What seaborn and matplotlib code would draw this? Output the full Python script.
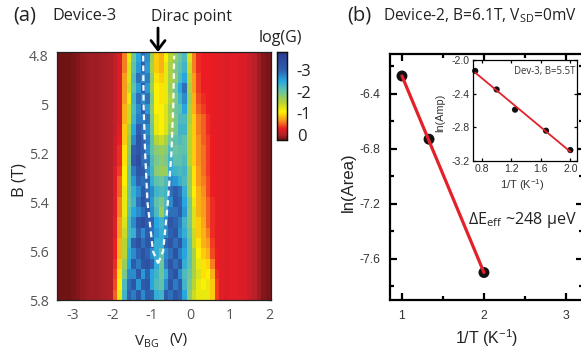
import numpy as np
import pandas as pd
import matplotlib
matplotlib.use("Agg")
import matplotlib.pyplot as plt
from matplotlib.colors import LinearSegmentedColormap
from matplotlib.ticker import FixedLocator, NullFormatter
import seaborn as sns

# ---------- data ----------
left_flank = [.2, .2, .2, .18, .15, .1, .07, .05, .04, .03, .02, .0]
right_flank = [-.25, -.25, -.22, -.2, -.13, -.05, .04, .15, .18]
center_rows = [
 [-.1,-.2,-.6,-1.2,-2.0,-2.5,-2.9,-2.7,-1.7,-.9,-.8,-1.1,-1.5,-1.8,-2.0,-2.2,-1.3,-.6,-.35,-.3,-.3,-.28,-.25,-.25,-.22],
 [-.1,-.2,-.6,-1.3,-2.1,-2.6,-3.0,-2.6,-1.6,-.9,-.8,-1.2,-1.6,-1.9,-2.1,-2.3,-1.4,-.6,-.35,-.3,-.3,-.28,-.25,-.25,-.22],
 [-.1,-.2,-.7,-1.3,-2.2,-2.9,-2.7,-2.8,-1.8,-1.0,-.9,-1.2,-1.6,-1.8,-2.2,-2.5,-1.5,-.7,-.4,-.3,-.3,-.28,-.25,-.25,-.22],
 [-.1,-.2,-.7,-1.4,-2.1,-2.6,-3.1,-2.6,-1.7,-1.1,-1.0,-1.2,-1.7,-2.0,-2.5,-2.9,-1.6,-.7,-.4,-.3,-.3,-.28,-.25,-.25,-.22],
 [-.1,-.2,-.7,-1.2,-2.3,-2.9,-2.7,-2.9,-1.9,-1.1,-1.0,-1.2,-1.6,-1.9,-2.3,-2.7,-1.7,-.8,-.45,-.35,-.3,-.28,-.25,-.25,-.22],
 [-.1,-.2,-.8,-1.4,-2.2,-2.7,-3.1,-2.6,-1.8,-1.1,-1.1,-1.3,-1.7,-2.0,-2.1,-2.5,-1.6,-.8,-.5,-.4,-.3,-.28,-.25,-.25,-.22],
 [-.1,-.2,-.8,-1.4,-2.3,-2.8,-2.8,-2.9,-1.9,-1.2,-1.1,-1.3,-1.6,-1.9,-2.2,-2.2,-1.6,-.9,-.6,-.5,-.35,-.28,-.25,-.25,-.22],
 [-.1,-.25,-.9,-1.6,-2.5,-3.1,-2.9,-2.7,-2.0,-1.2,-1.1,-1.3,-1.7,-1.9,-2.3,-2.3,-1.5,-.9,-.6,-.5,-.35,-.28,-.25,-.25,-.22],
 [-.15,-.3,-.9,-1.7,-2.7,-3.3,-3.0,-2.8,-2.1,-1.5,-1.4,-1.6,-2.0,-2.1,-2.2,-2.1,-1.5,-.9,-.65,-.5,-.4,-.3,-.25,-.25,-.22],
 [-.15,-.35,-1.0,-1.8,-3.0,-3.2,-3.0,-2.7,-2.1,-1.8,-1.7,-1.8,-2.2,-2.0,-2.1,-2.1,-1.5,-.9,-.65,-.55,-.4,-.3,-.25,-.25,-.22],
 [-.15,-.35,-1.0,-1.9,-3.1,-3.4,-2.9,-2.9,-2.2,-1.9,-1.8,-1.9,-2.3,-2.1,-2.1,-2.2,-1.5,-.9,-.65,-.55,-.4,-.3,-.25,-.25,-.22],
 [-.2,-.4,-1.1,-2.0,-2.8,-3.2,-3.1,-2.7,-2.3,-1.8,-1.7,-1.7,-2.4,-2.3,-2.2,-2.3,-1.7,-1.0,-.7,-.55,-.4,-.3,-.25,-.25,-.22],
 [-.2,-.5,-1.1,-2.0,-2.6,-3.0,-2.9,-3.0,-2.4,-2.1,-2.0,-2.2,-2.7,-2.6,-2.4,-2.2,-1.7,-1.0,-.7,-.6,-.45,-.3,-.25,-.25,-.22],
 [-.2,-.5,-1.2,-2.0,-2.4,-2.7,-3.1,-2.9,-2.7,-2.3,-2.2,-2.3,-2.9,-3.1,-2.9,-2.4,-1.7,-1.1,-.8,-.65,-.45,-.3,-.25,-.25,-.22],
 [-.2,-.6,-1.2,-2.0,-2.3,-2.9,-3.3,-3.0,-2.6,-2.1,-1.9,-2.2,-2.7,-3.2,-3.0,-2.5,-1.9,-1.2,-.8,-.7,-.5,-.35,-.25,-.25,-.22],
 [-.2,-.6,-1.2,-2.1,-2.5,-2.7,-2.9,-3.2,-2.7,-2.2,-1.7,-2.3,-2.9,-2.9,-3.1,-2.6,-1.9,-1.3,-.8,-.7,-.5,-.35,-.25,-.25,-.22],
 [-.25,-.7,-1.3,-2.2,-2.7,-3.2,-3.4,-3.1,-3.0,-2.5,-2.3,-2.7,-3.2,-3.0,-2.8,-2.3,-1.9,-1.3,-.9,-.75,-.5,-.35,-.25,-.25,-.22],
 [-.25,-.7,-1.4,-2.2,-2.4,-3.0,-2.7,-3.1,-2.9,-2.6,-2.4,-2.7,-3.0,-3.2,-2.7,-2.4,-2.0,-1.4,-.9,-.8,-.6,-.35,-.25,-.25,-.22],
 [-.3,-.8,-1.5,-2.3,-3.0,-3.3,-2.9,-3.2,-3.1,-2.4,-2.4,-3.0,-3.2,-2.9,-3.2,-2.6,-2.1,-1.4,-1.0,-.8,-.7,-.4,-.25,-.25,-.22],
 [-.3,-.8,-1.5,-2.4,-2.7,-3.0,-3.3,-3.0,-2.7,-2.4,-2.1,-2.7,-2.9,-3.3,-2.8,-2.5,-2.1,-1.6,-1.1,-.9,-.8,-.45,-.3,-.25,-.22],
 [-.35,-.9,-1.7,-2.5,-3.1,-2.8,-3.2,-3.3,-3.0,-2.4,-2.0,-2.8,-3.2,-2.9,-3.2,-2.4,-2.1,-1.6,-1.2,-1.0,-.95,-.6,-.3,-.25,-.22],
 [-.4,-1.0,-1.9,-2.7,-2.7,-3.2,-2.6,-3.0,-2.5,-2.3,-2.0,-2.4,-3.0,-3.3,-2.7,-2.2,-2.0,-1.6,-1.3,-1.0,-1.1,-.8,-.35,-.25,-.22],
 [-.45,-1.1,-2.2,-2.9,-3.2,-2.6,-3.1,-3.2,-2.5,-2.2,-2.1,-2.7,-3.2,-2.8,-3.1,-2.3,-1.9,-1.5,-1.2,-1.1,-1.2,-.9,-.4,-.25,-.22],
 [-.5,-1.2,-2.3,-3.0,-2.8,-3.2,-2.7,-3.1,-3.0,-2.4,-2.3,-3.1,-2.9,-3.2,-3.0,-2.5,-1.8,-1.4,-1.2,-1.2,-1.2,-.9,-.4,-.25,-.22],
]
vbg_ticks = [-3, -2, -1, 0, 1, 2]
b_ticks = [4.8, 5.0, 5.2, 5.4, 5.6, 5.8]
b_labels = ["4.8", "5", "5.2", "5.4", "5.6", "5.8"]
dash_left_v = [-1.21, -1.20, -1.16, -1.10, -.96, -.83]
dash_left_b = [4.80, 5.00, 5.20, 5.40, 5.60, 5.65]
dash_right_v = [-.83, -.70, -.58, -.49, -.44, -.42]
dash_right_b = [5.65, 5.60, 5.40, 5.20, 5.00, 4.80]
cbar_ticks = [-3, -2, -1, 0]
cbar_labels = ["-3", "-2", "-1", "0"]

main_x = [1.0, 1.33, 2.0]
main_y = [-6.27, -6.73, -7.70]
fit_x = [1.0, 2.0]
fit_y = [-6.27, -7.70]
inset_x = [.71, 1.0, 1.25, 1.67, 2.0]
inset_y = [-2.13, -2.35, -2.59, -2.84, -3.07]
inset_fit_x = [.71, 2.0]
inset_fit_y = [-2.15, -3.09]

# ---------- style ----------
sns.set_theme(style="ticks")
plt.rcParams["font.family"] = ["Liberation Sans", "DejaVu Sans"]
plt.rcParams["mathtext.default"] = "regular"
W, H = 581, 358
fig = plt.figure(figsize=(W / 100, H / 100), dpi=100, facecolor="white")

def rect(l, t, r, b):
    return [l / W, 1 - b / H, (r - l) / W, (b - t) / H]

def ftext(x, y, s, **kw):
    kw.setdefault("va", "center")
    fig.text(x / W, 1 - y / H, s, **kw)

OS = "Open Sans"
grey = "#555555"

# ---------- panel (a) ----------
cmap = LinearSegmentedColormap.from_list("g", [
    (0.00, "#2b3990"), (0.20, "#2e5fae"), (0.33, "#27a9e1"), (0.45, "#6cc5a0"),
    (0.57, "#b5d334"), (0.68, "#fff200"), (0.78, "#f7941d"), (0.87, "#ed1c24"),
    (0.94, "#b5202a"), (1.00, "#6a1214")])
vmin, vmax = -3.83, .23
xmin, xmax, ymin, ymax = -3.41, 2.04, 4.785, 5.80
G = pd.DataFrame([left_flank + r + right_flank for r in center_rows])
nr, nc = G.shape
tx = lambda v: (np.asarray(v) - xmin) / (xmax - xmin) * nc
ty = lambda v: (np.asarray(v) - ymin) / (ymax - ymin) * nr

ax = fig.add_axes(rect(57, 52, 270.5, 300))
cax = fig.add_axes(rect(277, 52, 287, 140))
sns.heatmap(G, ax=ax, cbar_ax=cax, cmap=cmap, vmin=vmin, vmax=vmax,
            xticklabels=False, yticklabels=False, linewidths=0, rasterized=True)
for vs, bs in ((dash_left_v, dash_left_b), (dash_right_v, dash_right_b)):
    sns.lineplot(x=tx(vs), y=ty(bs), ax=ax, sort=False, estimator=None,
                 color="white", lw=1.6, linestyle=(0, (2.6, 1.8)), alpha=.95)
ax.set_xlim(0, nc); ax.set_ylim(nr, 0)
ax.set_xticks(tx(vbg_ticks)); ax.set_xticklabels(["-3", "-2", "-1", "0", "1", "2"])
ax.set_yticks(ty(b_ticks)); ax.set_yticklabels(b_labels)
ax.set_xlabel(""); ax.set_ylabel("")
ax.tick_params(direction="in", length=2.5, width=.9, color="#222222", top=True, right=True,
               labelsize=10.2, labelcolor=grey, pad=6)
for l in ax.get_xticklabels() + ax.get_yticklabels():
    l.set_family(OS)
for s in ax.spines.values():
    s.set_visible(True); s.set_linewidth(.9); s.set_color("#222222")

cax.invert_yaxis()
cax.set_yticks(cbar_ticks); cax.set_yticklabels(cbar_labels)
cax.tick_params(direction="in", length=1.5, width=.7, labelsize=12, pad=7, colors="#222222", left=True, right=True)
for l in cax.get_yticklabels():
    l.set_family(OS)
for s in cax.spines.values():
    s.set_visible(True); s.set_linewidth(.9); s.set_color("#111111")

ftext(13, 15, "(a)", fontsize=14.5, family=OS, ha="left", color="#222222")
ftext(52, 16, "Device-3", fontsize=11.6, family=OS, ha="left", color="#222222")
ftext(151, 17, "Dirac point", fontsize=11.3, family=OS, ha="left", color="#222222")
ftext(259, 38, "log(G)", fontsize=11.5, family=OS, ha="left", color="#222222")
ftext(20, 180, "B (T)", fontsize=12, family=OS, rotation=90, ha="center", color="#222222")
ftext(134, 342, "V$_{BG}$", fontsize=11, family=OS, ha="left", color="#222222")
ftext(169, 340, "(V)", fontsize=11, family=OS, ha="left", color="#222222")
ax.annotate("", xy=(158 / W, 1 - 52 / H), xytext=(158 / W, 1 - 28 / H), xycoords="figure fraction",
            textcoords="figure fraction",
            arrowprops=dict(arrowstyle="->,head_length=0.55,head_width=0.42", lw=2, color="black",
                            shrinkA=0, shrinkB=0))

# ---------- panel (b) ----------
bx = fig.add_axes(rect(390, 54, 583, 300))
sns.scatterplot(x=main_x, y=main_y, ax=bx, color="#111111", s=62, edgecolor="none", zorder=2, clip_on=False)
sns.lineplot(x=fit_x, y=fit_y, ax=bx, color="#e3212a", lw=2.3, zorder=3)
bx.set_xlim(.854, 3.208); bx.set_ylim(-7.9, -6.11)
bx.set_xticks([1, 2, 3]); bx.set_yticks([-6.4, -6.8, -7.2, -7.6])
bx.set_xticklabels(["1", "2", "3"]); bx.set_yticklabels(["-6.4", "-6.8", "-7.2", "-7.6"])
bx.xaxis.set_minor_locator(FixedLocator([1.5, 2.5])); bx.yaxis.set_minor_locator(FixedLocator([-6.2, -6.6, -7.0, -7.4, -7.8]))
bx.xaxis.set_minor_formatter(NullFormatter()); bx.yaxis.set_minor_formatter(NullFormatter())
bx.tick_params(which="major", direction="in", length=5, width=1.6, top=True, right=True, labelsize=8.8,
               pad=7, color="black", labelcolor="#333333")
bx.tick_params(which="minor", direction="in", length=3, width=1.6, top=True, right=True, color="black")
for s in bx.spines.values():
    s.set_visible(True); s.set_linewidth(1.6); s.set_color("black")

ins = fig.add_axes(rect(473, 60, 577, 161))
sns.scatterplot(x=inset_x, y=inset_y, ax=ins, color="#111111", s=20, edgecolor="none", zorder=2, clip_on=False)
sns.lineplot(x=inset_fit_x, y=inset_fit_y, ax=ins, color="#e3212a", lw=1.3, zorder=3)
ins.set_xlim(.68, 2.09); ins.set_ylim(-3.2, -2.0)
ins.set_xticks([.8, 1.2, 1.6, 2.0]); ins.set_xticklabels(["0.8", "1.2", "1.6", "2.0"])
ins.set_yticks([-2.0, -2.4, -2.8, -3.2]); ins.set_yticklabels(["-2.0", "-2.4", "-2.8", "-3.2"])
ins.tick_params(direction="in", length=2.5, width=.9, top=True, right=True, labelsize=7.6, pad=2.5,
                color="black", labelcolor="#333333")
for s in ins.spines.values():
    s.set_visible(True); s.set_linewidth(.9); s.set_color("black")
ins.text(.98, .89, "Dev-3, B=5.5T", transform=ins.transAxes, ha="right", va="center", fontsize=6.9,
         family=OS, color="#333333")

ftext(347, 15, "(b)", fontsize=14.5, family=OS, ha="left", color="#222222")
ftext(383, 16, "Device-2, B=6.1T, V$_{SD}$=0mV", fontsize=11.2, family=OS, ha="left", color="#222222")
ftext(348, 182, "ln(Area)", fontsize=12, rotation=90, ha="center", color="#222222")
ftext(487, 338, "1/T (K$^{-1}$)", fontsize=11.5, ha="center", color="#222222")
ftext(440, 113, "ln(Amp)", fontsize=7.8, rotation=90, ha="center", color="#333333")
ftext(522, 185, "1/T (K$^{-1}$)", fontsize=8, ha="center", color="#333333")
ftext(468, 220, "ΔE$_{eff}$ ~248 μeV", fontsize=11.6, family=OS, ha="left", color="#222222")

fig.savefig("out.png", dpi=100)
